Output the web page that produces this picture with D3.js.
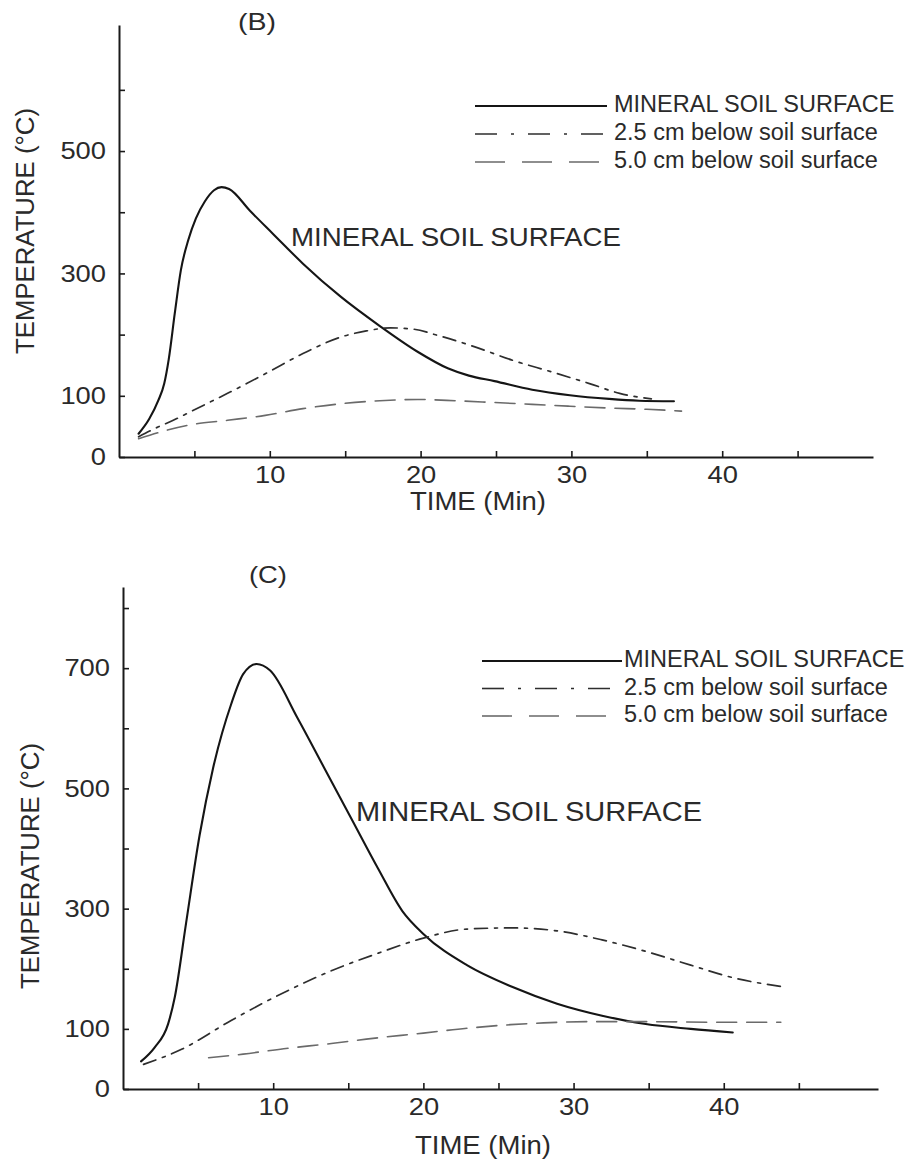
<!DOCTYPE html>
<html>
<head>
<meta charset="utf-8">
<script src="https://cdn.jsdelivr.net/npm/d3@7"></script>
<style>
  html, body { margin: 0; padding: 0; background: #fff; }
  svg { display: block; }
  text { font-family: "Liberation Sans", Arial, Helvetica, sans-serif; fill: #2a2a2a; }
</style>
</head>
<body>
<svg id="chart" width="917" height="1164"></svg>
<script>
// ---------- DATA ----------
// Panel (B)
const timeB_surface = [1.3, 2.0, 2.6, 3.0, 3.3, 3.7, 4.1, 4.6, 5.1, 5.7, 6.3, 6.8, 7.3, 8.7, 10.2, 12.2, 14.7, 17.3, 19.8, 21.8, 23.2, 24.9, 27.4, 29.9, 32.5, 34.5, 36.8];
const tempB_surface = [38, 62, 92, 120, 160, 235, 305, 355, 390, 418, 436, 441, 438, 402, 365, 316, 262, 214, 172, 145, 133, 124, 110, 101, 95, 92, 91];
const timeB_25 = [1.3, 2.5, 3.6, 4.9, 7.2, 9.7, 12.2, 14.7, 16.4, 18.0, 19.5, 21.1, 23.6, 26.1, 28.7, 31.2, 33.2, 35.3];
const tempB_25 = [33, 48, 60, 76, 104, 136, 169, 196, 206, 211, 209, 199, 180, 158, 139, 120, 104, 95];
const timeB_50 = [1.3, 4.6, 7.2, 9.7, 12.2, 14.7, 17.3, 19.8, 22.3, 24.9, 27.4, 29.9, 32.5, 35.0, 37.3];
const tempB_50 = [30, 52, 60, 68, 79, 87, 92, 94, 92, 89, 86, 83, 80, 78, 75];

// Panel (C)
const timeC_surface = [1.2, 2.1, 3.0, 3.45, 4.2, 5.1, 6.0, 7.2, 8.0, 8.9, 9.8, 11.6, 13.4, 15.2, 17.0, 18.6, 20.0, 22.9, 25.9, 28.9, 31.9, 34.8, 37.8, 40.6];
const tempC_surface = [46, 69, 108, 153, 276, 422, 534, 640, 690, 707, 696, 618, 534, 450, 366, 296, 258, 206, 170, 142, 122, 108, 100, 94];
const timeC_25 = [1.37, 3.9, 7.2, 11.0, 14.0, 17.0, 20.0, 22.9, 25.9, 28.9, 31.9, 34.8, 37.8, 40.8, 44.0];
const tempC_25 = [41, 66, 114, 164, 198, 226, 251, 266, 268, 263, 248, 229, 206, 184, 170];
const timeC_50 = [5.7, 8.0, 10.7, 14.0, 16.2, 20.0, 22.9, 25.8, 28.0, 31.0, 35.0, 40.0, 43.8];
const tempC_50 = [52, 58, 67, 76, 83, 93, 101, 107, 110, 112, 112, 111, 111];

// Axis ticks / labels
const xTicks = [5, 10, 15, 20, 25, 30, 35, 40, 45];
const xLabels = [10, 20, 30, 40];
const yTicksB = [0, 100, 200, 300, 400, 500, 600];
const yLabelsB = [0, 100, 300, 500];
const yTicksC = [0, 100, 200, 300, 400, 500, 600, 700, 800];
const yLabelsC = [0, 100, 300, 500, 700];

const seriesNames = ["MINERAL SOIL SURFACE", "2.5 cm below soil surface", "5.0 cm below soil surface"];
const xTitle = "TIME (Min)";
const yTitle = "TEMPERATURE (°C)";

// ---------- DRAW ----------
const svg = d3.select("#chart");

const styles = [
  {stroke: "#151515", width: 2.1, dash: null, legendDash: null},
  {stroke: "#2e2e2e", width: 1.7, dash: "13,7,3,7", legendDash: "22,14,3,14"},
  {stroke: "#6a6a6a", width: 1.6, dash: "20,10", legendDash: "30,17"}
];

function stretchText(sel, perChar) {
  sel.each(function() {
    const t = d3.select(this);
    const s = t.text();
    if (s.length) t.attr("textLength", perChar * s.length).attr("lengthAdjust", "spacingAndGlyphs");
  });
}

function panel(cfg) {
  const x = d3.scaleLinear().domain([0, cfg.xMax]).range([cfg.x0, cfg.x1]);
  const y = d3.scaleLinear().domain([0, cfg.yMax]).range([cfg.y0, cfg.yTop]);
  const g = svg.append("g");

  // x axis
  const xa = g.append("g").attr("transform", `translate(0,${cfg.y0})`)
    .call(d3.axisBottom(x).tickValues(xTicks)
      .tickFormat(d => xLabels.includes(d) ? d : "")
      .tickSizeInner(-6).tickSizeOuter(0).tickPadding(9));
  xa.select(".domain").attr("stroke", "#1a1a1a").attr("stroke-width", 2);
  xa.selectAll(".tick line").attr("stroke", "#1a1a1a").attr("stroke-width", 1.6);
  xa.selectAll(".tick text").attr("font-size", 24).attr("fill", "#2a2a2a")
    .style("font-family", "Liberation Sans, Arial, sans-serif");
  stretchText(xa.selectAll(".tick text"), 15.2);

  // y axis
  const ya = g.append("g").attr("transform", `translate(${cfg.x0},0)`)
    .call(d3.axisLeft(y).tickValues(cfg.yTicks)
      .tickFormat(d => cfg.yLabels.includes(d) ? d : "")
      .tickSizeInner(-6).tickSizeOuter(0).tickPadding(13));
  ya.select(".domain").attr("stroke", "#1a1a1a").attr("stroke-width", 2);
  ya.selectAll(".tick line").attr("stroke", "#1a1a1a").attr("stroke-width", 1.6);
  ya.selectAll(".tick text").attr("font-size", 24).attr("fill", "#2a2a2a")
    .style("font-family", "Liberation Sans, Arial, sans-serif");
  stretchText(ya.selectAll(".tick text"), 15.2);

  // titles
  g.append("text").attr("x", cfg.titleX).attr("y", cfg.titleY)
    .attr("text-anchor", "middle").attr("dominant-baseline", "middle")
    .attr("font-size", 24).attr("textLength", 38).attr("lengthAdjust", "spacingAndGlyphs")
    .text(cfg.label);
  g.append("text").attr("x", cfg.xTitleX).attr("y", cfg.xTitleY)
    .attr("text-anchor", "middle").attr("dominant-baseline", "middle")
    .attr("font-size", 25).attr("textLength", 136).attr("lengthAdjust", "spacingAndGlyphs")
    .text(xTitle);
  g.append("text")
    .attr("transform", `translate(${cfg.yTitleX},${cfg.yTitleY}) rotate(-90)`)
    .attr("text-anchor", "middle").attr("dominant-baseline", "middle")
    .attr("font-size", 25).attr("textLength", 246).attr("lengthAdjust", "spacingAndGlyphs")
    .text(yTitle);

  // lines
  const line = d3.line().x(d => x(d[0])).y(d => y(d[1])).curve(d3.curveMonotoneX);
  cfg.series.forEach((s, i) => {
    const pts = s.t.map((t, k) => [t, s.v[k]]);
    g.append("path").datum(pts).attr("d", line)
      .attr("fill", "none").attr("stroke", styles[i].stroke)
      .attr("stroke-width", styles[i].width)
      .attr("stroke-linecap", "round").attr("stroke-linejoin", "round")
      .attr("stroke-dasharray", styles[i].dash);
  });

  // annotation
  g.append("text").attr("x", cfg.annX).attr("y", cfg.annY)
    .attr("font-size", cfg.annSize).attr("textLength", cfg.annLen).attr("lengthAdjust", "spacingAndGlyphs")
    .text(seriesNames[0]);

  // legend
  const lg = g.append("g");
  seriesNames.forEach((name, i) => {
    const ly = cfg.legY + i * cfg.legStep;
    lg.append("line").attr("x1", cfg.legX0).attr("x2", cfg.legX1)
      .attr("y1", ly).attr("y2", ly)
      .attr("stroke", styles[i].stroke).attr("stroke-width", i === 0 ? 1.8 : 1.6)
      .attr("stroke-dasharray", styles[i].legendDash);
    lg.append("text").attr("x", cfg.legTextX).attr("y", ly)
      .attr("dominant-baseline", "middle").attr("font-size", 23.5).text(name);
  });
}

panel({
  label: "(B)", titleX: 257, titleY: 24,
  x0: 119, x1: 873, xMax: 50, y0: 457, yTop: 25, yMax: 706,
  yTicks: yTicksB, yLabels: yLabelsB,
  xTitleX: 478, xTitleY: 503, yTitleX: 27, yTitleY: 231,
  annX: 291, annY: 246, annSize: 25, annLen: 330,
  legY: 106, legStep: 28, legX0: 475, legX1: 607, legTextX: 614,
  series: [
    {t: timeB_surface, v: tempB_surface},
    {t: timeB_25, v: tempB_25},
    {t: timeB_50, v: tempB_50}
  ]
});

panel({
  label: "(C)", titleX: 268, titleY: 577,
  x0: 123, x1: 878, xMax: 50.27, y0: 1089, yTop: 587, yMax: 835,
  yTicks: yTicksC, yLabels: yLabelsC,
  xTitleX: 483, xTitleY: 1147, yTitleX: 32, yTitleY: 866,
  annX: 356, annY: 821, annSize: 27, annLen: 346,
  legY: 661, legStep: 27.5, legX0: 482, legX1: 622, legTextX: 624,
  series: [
    {t: timeC_surface, v: tempC_surface},
    {t: timeC_25, v: tempC_25},
    {t: timeC_50, v: tempC_50}
  ]
});
</script>
</body>
</html>
